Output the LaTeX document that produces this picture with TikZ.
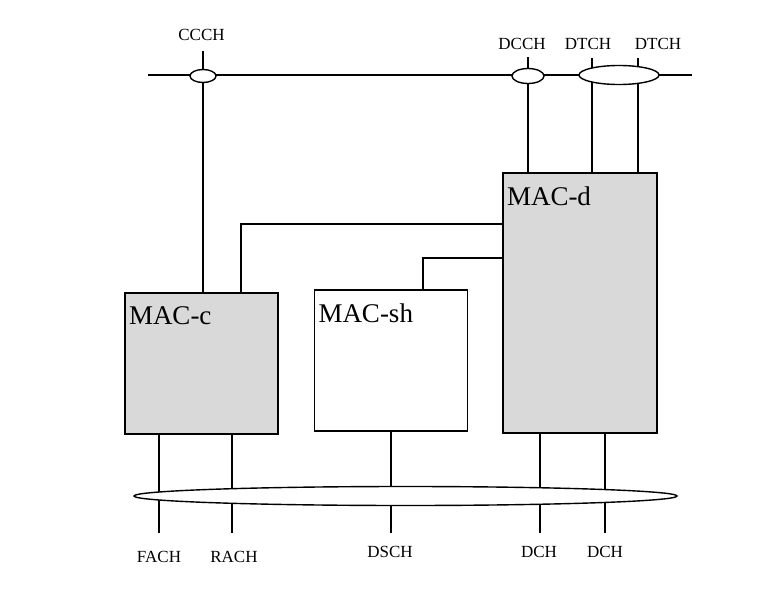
\documentclass[tikz,border=0pt]{standalone}
\usepackage{fontspec}
\setmainfont{Liberation Serif}
\usepackage{xcolor}
\usepackage{tikz}
\usetikzlibrary{shapes.geometric}
\definecolor{macgray}{RGB}{217,217,217}
\pgfdeclarelayer{bg}
\pgfsetlayers{bg,main}

\begin{document}
\begin{tikzpicture}[
  x=1pt, y=-1pt,
  line width=1.4pt,
  macbox/.style={draw, rectangle, inner sep=0pt, minimum width=153pt},
  chan/.style={draw, ellipse, fill=white, inner sep=0pt},
  link/.style={line width=1.4pt},
  chlabel/.style={font=\fontsize{17}{20}\selectfont, inner sep=0pt},
  maclabel/.style={font=\fontsize{27}{32}\selectfont, inner sep=0pt, anchor=north west}
]
\useasboundingbox (0,0) rectangle (772,608);

% MAC entities
\node[macbox, fill=macgray, minimum height=141pt] (macc) at (201.5,363.5) {};
\node[macbox, fill=white, minimum height=141pt] (macsh) at (391,360.5) {};
\node[macbox, fill=macgray, minimum width=154pt, minimum height=260pt] (macd) at (580,303) {};
\node[maclabel] (macclbl) at ([shift={(4,14)}]macc.north west) {MAC-c};
\node[maclabel] (macshlbl) at ([shift={(4,14)}]macsh.north west) {MAC-sh};
\node[maclabel] (macdlbl) at ([shift={(4,14)}]macd.north west) {MAC-d};

% channel groups
\node[chan, minimum width=26pt, minimum height=13pt] (ccch) at (203,76) {};
\node[chan, minimum width=32pt, minimum height=15pt] (dcch) at (528,76) {};
\node[chan, minimum width=80pt, minimum height=19pt] (dtch) at (619,75) {};
\node[chan, minimum width=543pt, minimum height=19pt] (trch) at (405.5,496) {};

% logical channel names
\node[chlabel] (ccchlbl) at (201.5,34.5) {CCCH};
\node[chlabel] (dcchlbl) at (522,44) {DCCH};
\node[chlabel] (dtchalbl) at (588,44) {DTCH};
\node[chlabel] (dtchblbl) at (658,44) {DTCH};

% transport channel names
\node[chlabel] (fachlbl) at (159,557) {FACH};
\node[chlabel] (rachlbl) at (234,557) {RACH};
\node[chlabel] (dschlbl) at (390,552) {DSCH};
\node[chlabel] (dchalbl) at (539,552) {DCH};
\node[chlabel] (dchblbl) at (605,552) {DCH};

% free line ends
\coordinate (busl) at (148,75);
\coordinate (busr) at (692,75);
\coordinate (cccht) at (203,51);
\coordinate (dccht) at (528,57);
\coordinate (dtchat) at (592,58);
\coordinate (dtchbt) at (638,58);
\coordinate (fache) at (159,533);
\coordinate (rache) at (232,533);
\coordinate (dsche) at (391,533);
\coordinate (dchae) at (540,533);
\coordinate (dchbe) at (605,533);

\begin{pgfonlayer}{bg}
\begin{scope}[link]
\draw (busl) -- (busr);
\draw (cccht) -- (cccht |- macc.north);
\draw (dccht) -- (dccht |- macd.north);
\draw (dtchat) -- (dtchat |- macd.north);
\draw (dtchbt) -- (dtchbt |- macd.north);

\draw (macd.west |- 0,224) -| (241,0 |- macc.north);
\draw (macd.west |- 0,258) -| (423,0 |- macsh.north);

\draw (fache |- macc.south) -- (fache);
\draw (rache |- macc.south) -- (rache);
\draw (dsche |- macsh.south) -- (dsche);
\draw (dchae |- macd.south) -- (dchae);
\draw (dchbe |- macd.south) -- (dchbe);
\end{scope}
\end{pgfonlayer}
\end{tikzpicture}
\end{document}
